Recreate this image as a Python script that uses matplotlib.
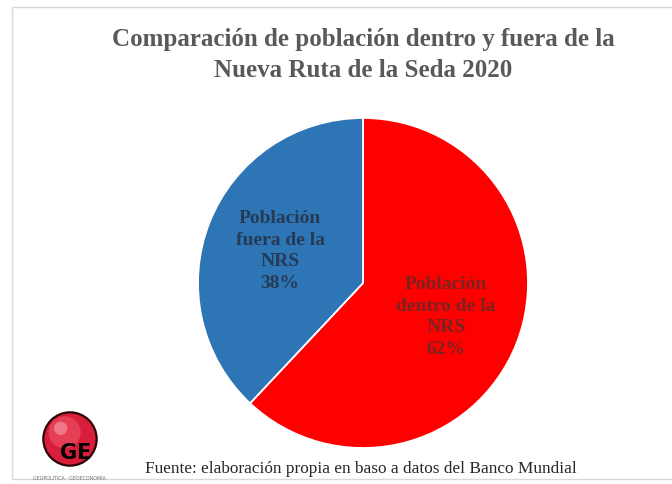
import matplotlib.pyplot as plt
from matplotlib.patches import Rectangle, Circle

# Población dentro y fuera de la NRS (2020), en %
categorias = ["Población\ndentro de la\nNRS", "Población\nfuera de la\nNRS"]
valores = [62, 38]
colores = ["#FF0000", "#2E75B6"]
colores_texto = ["#7A2323", "#253A55"]

titulo = "Comparación de población dentro y fuera de la\nNueva Ruta de la Seda 2020"
fuente = "Fuente: elaboración propia en baso a datos del Banco Mundial"

W, H = 672, 485
fig = plt.figure(figsize=(W / 100, H / 100), dpi=100)
fig.patch.set_facecolor("white")

# marco gris del gráfico
fig.patches.append(Rectangle((12 / W, 1 - 480 / H), 1.0, (480 - 8) / H,
                             transform=fig.transFigure, fill=False,
                             edgecolor="#D9D9D9", linewidth=1.0))

# ejes del pastel: centro (363, 284) px, radio 165 px
cx, cy, r = 363, 284, 165
ax = fig.add_axes([(cx - r) / W, (H - cy - r) / H, 2 * r / W, 2 * r / H])

wedges, texts = ax.pie(
    valores,
    colors=colores,
    labels=[f"{c}\n{v}%" for c, v in zip(categorias, valores)],
    labeldistance=0.54,
    startangle=90,
    counterclock=False,
    radius=1.0,
    wedgeprops=dict(edgecolor="white", linewidth=1.3),
)
for t, c in zip(texts, colores_texto):
    t.set_horizontalalignment("center")
    t.set_verticalalignment("center")
    t.set_fontfamily("Liberation Serif")
    t.set_fontweight("bold")
    t.set_fontsize(14)
    t.set_linespacing(1.35)
    t.set_color(c)
ax.set_xlim(-1, 1)
ax.set_ylim(-1, 1)
ax.set_aspect("equal")
ax.axis("off")

# título
fig.text(363 / W, 1 - 55 / H, titulo, ha="center", va="center",
         fontfamily="Liberation Serif", fontweight="bold", fontsize=18,
         color="#595959", linespacing=1.4)

# fuente
fig.text(145 / W, 1 - 469 / H, fuente, ha="left", va="center",
         fontfamily="Liberation Serif", fontsize=12.4, color="#262626")

# logo GE
lx, ly, lr = 70, 440, 28
logo = fig.add_axes([(lx - lr) / W, (H - ly - lr) / H, 2 * lr / W, 2 * lr / H])
logo.add_patch(Circle((0, 0), 1.0, facecolor="#D81E3A", edgecolor="#2A0508", linewidth=1.6))
logo.add_patch(Circle((-0.2, 0.25), 0.6, facecolor="#EE5468", edgecolor="none", alpha=0.6))
logo.add_patch(Circle((-0.35, 0.4), 0.25, facecolor="#F7A0AB", edgecolor="none", alpha=0.6))
logo.text(0.2, -0.5, "GE", ha="center", va="center", fontsize=15,
          fontweight="bold", color="black")
logo.set_xlim(-1.05, 1.05)
logo.set_ylim(-1.05, 1.05)
logo.set_aspect("equal")
logo.axis("off")
fig.text(69 / W, 1 - 479 / H, "GEOPOLÍTICA · GEOECONOMÍA", ha="center", va="center",
         fontsize=3.4, color="#707070")

fig.savefig("out.png", dpi=100)
